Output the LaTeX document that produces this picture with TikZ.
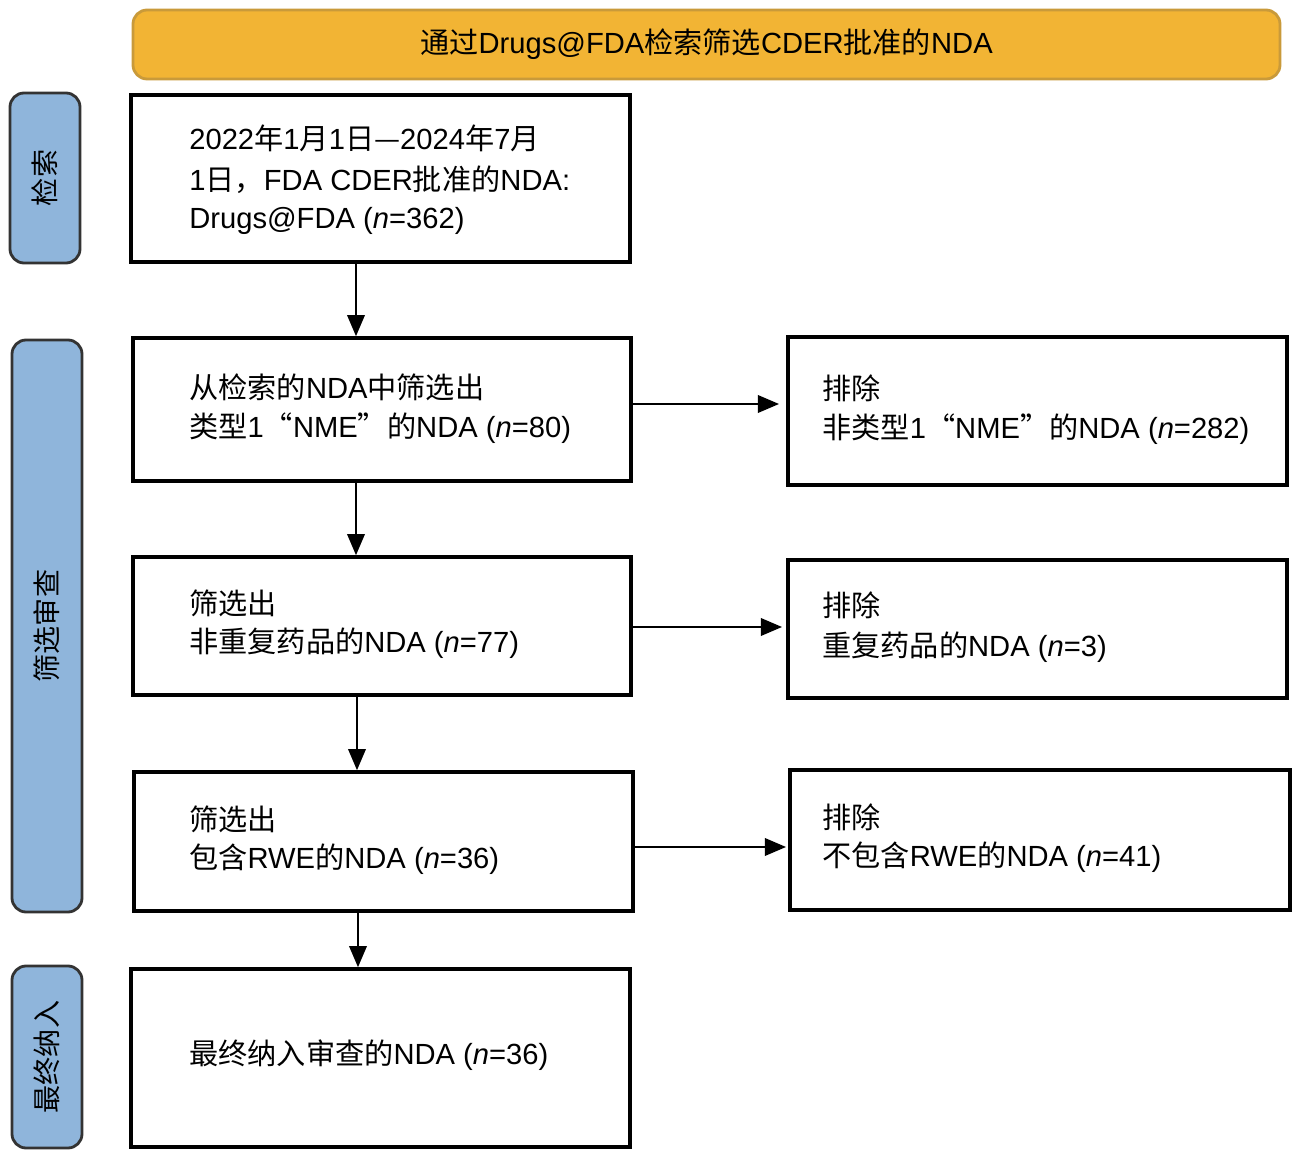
\documentclass[tikz,border=0pt]{standalone}
\usepackage{fontspec}
\setmainfont{Liberation Sans}
\newfontfamily\cjk{Noto Sans CJK SC}
\newcommand{\zh}[1]{{\cjk #1}}
\usetikzlibrary{arrows.meta}
\begin{document}
\begin{tikzpicture}[x=0.02cm,y=-0.02cm,
  box/.style={draw,line width=2.1pt},
  side/.style={draw=black!80,line width=1.6pt,fill=sideblue,rounded corners=8pt},
  txt/.style={anchor=west,font=\fontsize{16.6}{18}\selectfont,inner sep=0pt},
  arr/.style={-{Triangle[length=12pt,width=10pt]},line width=1pt},
  lab/.style={rotate=90,font=\fontsize{16}{18}\selectfont\cjk}]
\definecolor{sideblue}{HTML}{8FB5DB}
\definecolor{banner}{HTML}{F2B434}
\definecolor{bannerline}{HTML}{C99A3A}
\useasboundingbox (0,0) rectangle (1299,1158);
% banner
\node[draw=bannerline,line width=1.6pt,fill=banner,rounded corners=8pt,minimum width=1147*0.02cm,minimum height=69*0.02cm,font=\fontsize{16.6}{18}\selectfont] (top) at (706.5,44.5) {\zh{通过}Drugs@FDA\zh{检索筛选}CDER\zh{批准的}NDA};
% side labels
\draw[side] (10,93) rectangle (80,263);
\node[lab] (l1) at (45,178) {检索};
\draw[side] (12,340) rectangle (82,912);
\node[lab] (l2) at (47,626) {筛选审查};
\draw[side] (12,966) rectangle (82,1148);
\node[lab] (l3) at (47,1057) {最终纳入};
% main boxes
\node[box,minimum width=499*0.02cm,minimum height=167*0.02cm] (b1) at (380.5,178.5) {};
\node[box,minimum width=498*0.02cm,minimum height=143*0.02cm] (b2) at (382,409.5) {};
\node[box,minimum width=498*0.02cm,minimum height=138*0.02cm] (b3) at (382,626) {};
\node[box,minimum width=499*0.02cm,minimum height=139*0.02cm] (b4) at (383.5,841.5) {};
\node[box,minimum width=499*0.02cm,minimum height=178*0.02cm] (b5) at (380.5,1058) {};
\node[box,minimum width=499*0.02cm,minimum height=148*0.02cm] (r1) at (1037.5,411) {};
\node[box,minimum width=499*0.02cm,minimum height=138*0.02cm] (r2) at (1037.5,629) {};
\node[box,minimum width=500*0.02cm,minimum height=140*0.02cm] (r3) at (1040,840) {};
% texts
\node[txt] (t11) at (189,138) {2022\zh{年}1\zh{月}1\zh{日—}2024\zh{年}7\zh{月}};
\node[txt] (t12) at (189,180) {1\zh{日，}FDA CDER\zh{批准的}NDA:};
\node[txt] (t13) at (189,221) {Drugs@FDA (\textit{n}=362)};
\node[txt] (t21) at (189,387) {\zh{从检索的}NDA\zh{中筛选出}};
\node[txt] (t22) at (189,428) {\zh{类型}1\zh{“}NME\zh{”的}NDA (\textit{n}=80)};
\node[txt] (t31) at (189,603) {\zh{筛选出}};
\node[txt] (t32) at (189,643) {\zh{非重复药品的}NDA (\textit{n}=77)};
\node[txt] (t41) at (189,819) {\zh{筛选出}};
\node[txt] (t42) at (189,859) {\zh{包含}RWE\zh{的}NDA (\textit{n}=36)};
\node[txt] (t51) at (189,1055) {\zh{最终纳入审查的}NDA (\textit{n}=36)};
\node[txt] (s11) at (822,388) {\zh{排除}};
\node[txt] (s12) at (822,429) {\zh{非类型}1\zh{“}NME\zh{”的}NDA (\textit{n}=282)};
\node[txt] (s21) at (822,605) {\zh{排除}};
\node[txt] (s22) at (822,647) {\zh{重复药品的}NDA (\textit{n}=3)};
\node[txt] (s31) at (822,817) {\zh{排除}};
\node[txt] (s32) at (822,857) {\zh{不包含}RWE\zh{的}NDA (\textit{n}=41)};
% arrows
\coordinate (e1) at (779,404);
\coordinate (e2) at (782,627);
\coordinate (e3) at (786,847);
\draw[arr] (b1.south -| 356,0) -- (b2.north -| 356,0);
\draw[arr] (b2.south -| 356,0) -- (b3.north -| 356,0);
\draw[arr] (b3.south -| 357,0) -- (b4.north -| 357,0);
\draw[arr] (b4.south -| 358,0) -- (b5.north -| 358,0);
\draw[arr] (b2.east |- e1) -- (e1);
\draw[arr] (b3.east |- e2) -- (e2);
\draw[arr] (b4.east |- e3) -- (e3);
\end{tikzpicture}
\end{document}
